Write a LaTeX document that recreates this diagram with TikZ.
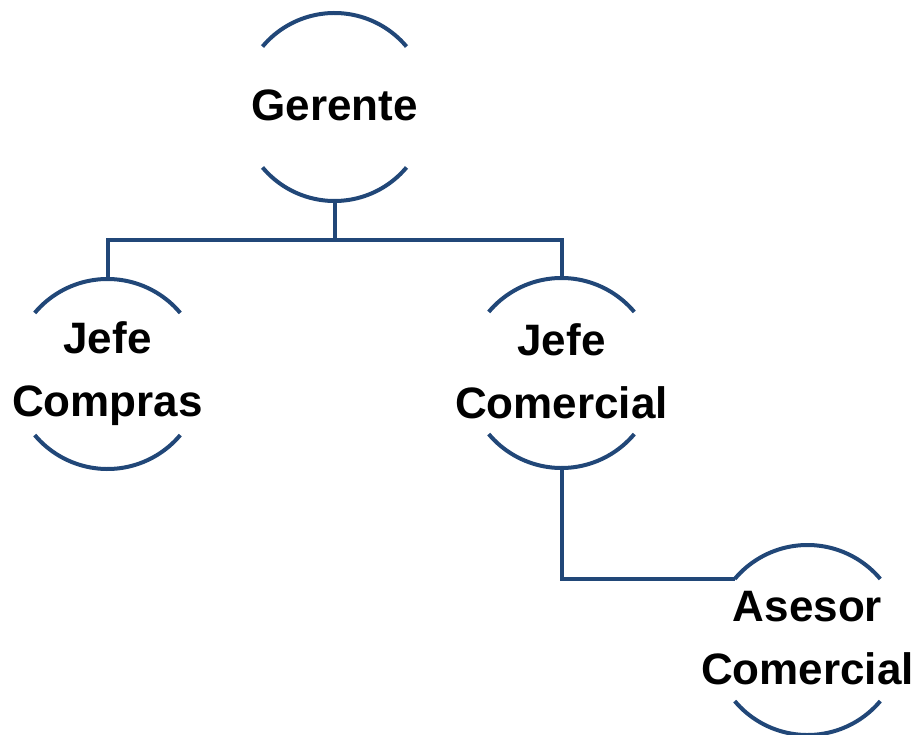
\documentclass[tikz,border=0pt]{standalone}
\usepackage{fontspec}
\setmainfont{Liberation Sans}
\definecolor{linkblue}{RGB}{33,71,120}
\tikzset{
  ring/.style={circle, minimum size=#1, inner sep=0pt, outer sep=0pt},
  arcline/.style={draw=linkblue, line width=4pt},
  conn/.style={draw=linkblue, line width=4pt},
  lbl/.style={align=center, text=black, font=\fontsize{44}{63}\selectfont\bfseries, inner sep=0pt}
}
\newcommand\ringarcs[2]{%
  \draw[arcline] (#1.40) arc[start angle=40, end angle=140, radius=#2];
  \draw[arcline] (#1.-40) arc[start angle=-40, end angle=-140, radius=#2];
}
\newcommand\ringlabel[3]{%
  \node[lbl, yshift=#2] (#1-t) at (#1) {#3};
}
\begin{document}
\begin{tikzpicture}[x=1pt,y=1pt]
\useasboundingbox (0,0) rectangle (917,-735);
\node[ring=188pt] (g)   at (334.5,-107) {};
\node[ring=190pt] (jcp) at (107.5,-374) {};
\node[ring=190pt] (jcm) at (561.5,-373) {};
\node[ring=190pt] (as)  at (807.5,-640) {};
\coordinate (bus) at (334.5,-240);

\ringarcs{g}{94pt}
\ringarcs{jcp}{95pt}
\ringarcs{jcm}{95pt}
\ringarcs{as}{95pt}

\draw[conn] (g.south) -- (g.south |- bus);
\draw[conn] (jcp.north) -- (jcp.north |- bus) -- (jcm.north |- bus) -- (jcm.north);
\draw[conn] (jcm.south) |- (as.140);

\ringlabel{g}{2pt}{Gerente}
\ringlabel{jcp}{0pt}{Jefe\\Compras}
\ringlabel{jcm}{2pt}{Jefe\\Comercial}
\ringlabel{as}{2pt}{Asesor\\Comercial}
\end{tikzpicture}
\end{document}
